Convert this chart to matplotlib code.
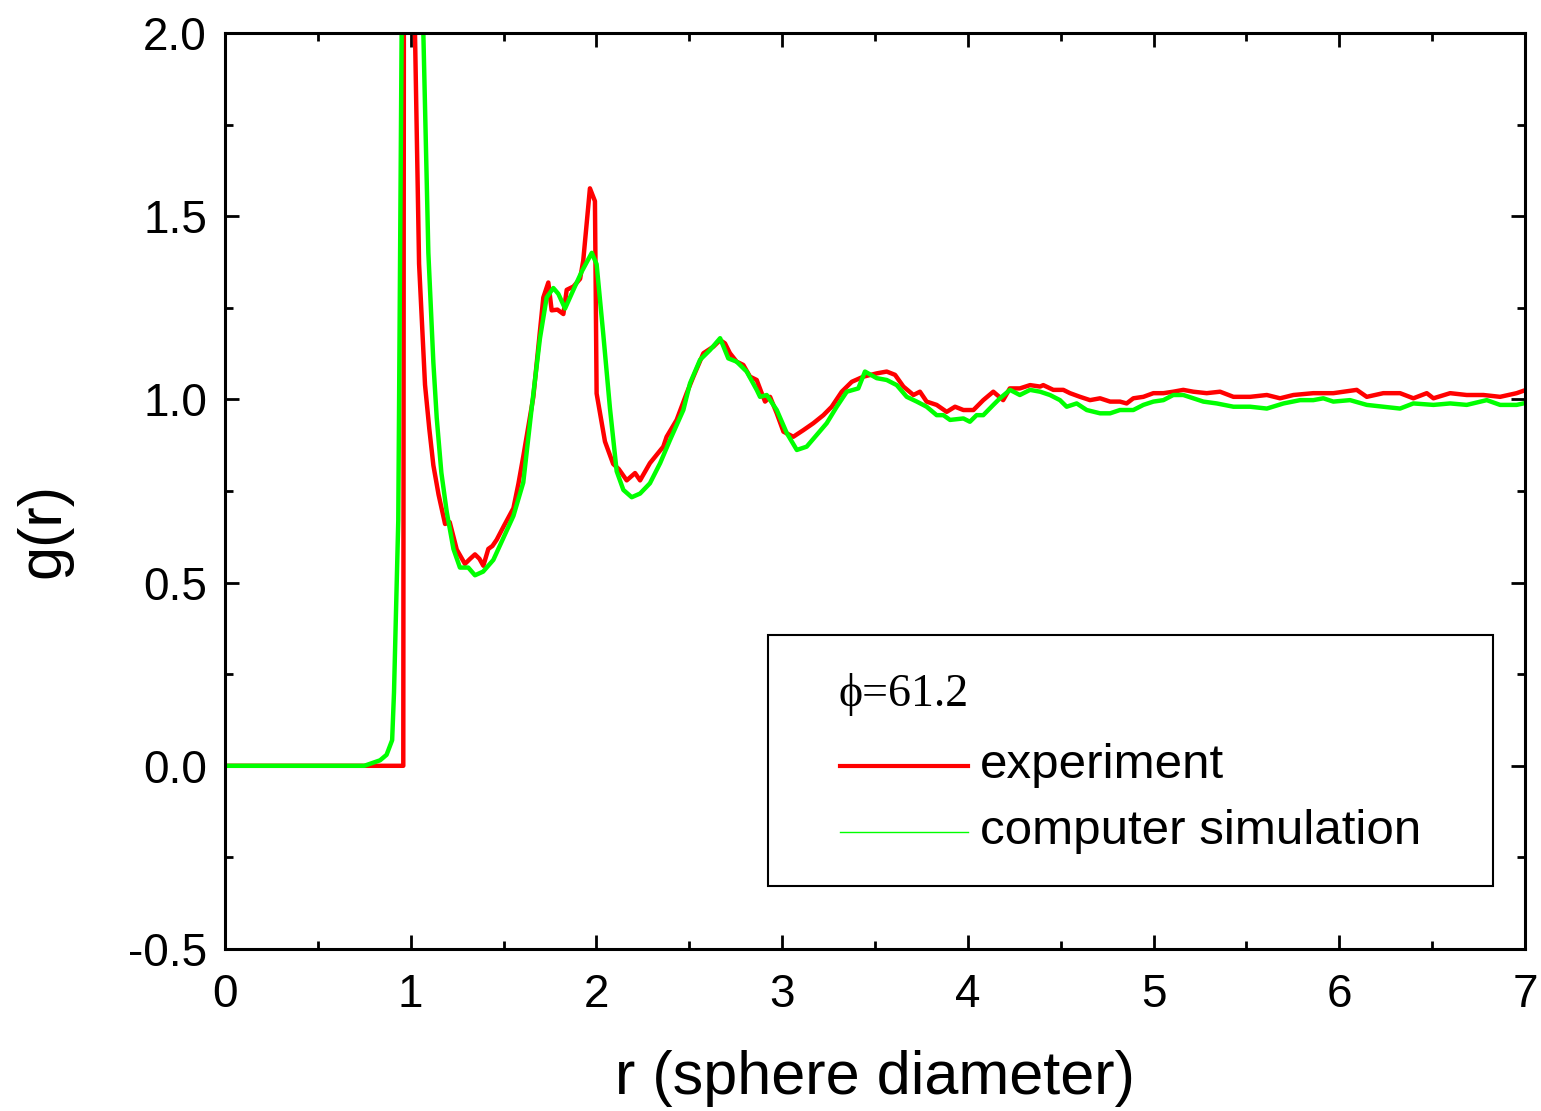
import matplotlib
matplotlib.use("Agg")
import matplotlib.pyplot as plt
from matplotlib.patches import Rectangle
from matplotlib.lines import Line2D
from matplotlib.ticker import MultipleLocator

# ---- data ----
r_exp = [0, 0.96, 0.965, 0.99, 1.023, 1.045, 1.077, 1.10, 1.122, 1.15, 1.185, 1.21,
         1.248, 1.292, 1.32, 1.346, 1.37, 1.391, 1.418, 1.44, 1.463, 1.499, 1.553,
         1.58, 1.606, 1.66, 1.714, 1.741, 1.759, 1.79, 1.822, 1.84, 1.876, 1.912,
         1.929, 1.965, 1.992, 2.001, 2.046, 2.09, 2.12, 2.163, 2.208, 2.235, 2.288,
         2.36, 2.378, 2.432, 2.486, 2.522, 2.576, 2.63, 2.666, 2.692, 2.719, 2.755,
         2.791, 2.827, 2.863, 2.89, 2.908, 2.935, 2.971, 3.007, 3.06, 3.114, 3.168,
         3.222, 3.267, 3.321, 3.375, 3.437, 3.509, 3.563, 3.608, 3.653, 3.707, 3.742,
         3.778, 3.832, 3.886, 3.931, 3.976, 4.03, 4.083, 4.137, 4.19, 4.226, 4.28,
         4.335, 4.389, 4.406, 4.46, 4.514, 4.55, 4.604, 4.658, 4.712, 4.766, 4.819,
         4.855, 4.891, 4.945, 4.999, 5.053, 5.106, 5.16, 5.214, 5.286, 5.358, 5.43,
         5.52, 5.61, 5.681, 5.753, 5.86, 5.968, 6.094, 6.148, 6.237, 6.327, 6.399,
         6.471, 6.507, 6.597, 6.686, 6.776, 6.866, 6.955, 7.0]
g_exp = [0, 0, 3.2, 3.0, 2.0, 1.37, 1.04, 0.92, 0.82, 0.74, 0.66, 0.665,
         0.59, 0.551, 0.565, 0.577, 0.565, 0.546, 0.592, 0.60, 0.617, 0.652, 0.703,
         0.77, 0.844, 1.006, 1.278, 1.319, 1.243, 1.245, 1.233, 1.299, 1.308, 1.329,
         1.379, 1.576, 1.541, 1.016, 0.885, 0.824, 0.81, 0.779, 0.799, 0.779, 0.826,
         0.871, 0.898, 0.944, 1.017, 1.062, 1.126, 1.144, 1.162, 1.153, 1.126, 1.103,
         1.094, 1.062, 1.053, 1.017, 0.994, 1.007, 0.962, 0.912, 0.898, 0.916, 0.935,
         0.957, 0.98, 1.021, 1.048, 1.062, 1.071, 1.076, 1.067, 1.035, 1.012, 1.021,
         0.994, 0.985, 0.966, 0.98, 0.971, 0.971, 0.998, 1.021, 0.998, 1.03, 1.03,
         1.039, 1.035, 1.039, 1.026, 1.026, 1.017, 1.007, 0.998, 1.003, 0.994, 0.994,
         0.989, 1.003, 1.007, 1.017, 1.017, 1.021, 1.026, 1.021, 1.017, 1.021, 1.007,
         1.007, 1.012, 1.003, 1.012, 1.017, 1.017, 1.026, 1.007, 1.017, 1.017, 1.003,
         1.017, 1.003, 1.017, 1.012, 1.012, 1.007, 1.017, 1.025]

r_sim = [0, 0.75, 0.835, 0.87, 0.9, 0.91, 0.933, 0.951, 0.97, 1.02, 1.068, 1.095,
         1.122, 1.14, 1.165, 1.194, 1.23, 1.265, 1.31, 1.346, 1.39, 1.445, 1.499,
         1.553, 1.606, 1.651, 1.696, 1.732, 1.768, 1.795, 1.831, 1.876, 1.921, 1.975,
         2.001, 2.037, 2.073, 2.109, 2.145, 2.19, 2.235, 2.288, 2.343, 2.396, 2.468,
         2.504, 2.558, 2.612, 2.666, 2.71, 2.755, 2.809, 2.863, 2.881, 2.917, 2.971,
         3.025, 3.079, 3.132, 3.186, 3.24, 3.294, 3.348, 3.41, 3.446, 3.509, 3.563,
         3.617, 3.671, 3.725, 3.778, 3.832, 3.868, 3.904, 3.976, 4.011, 4.047, 4.083,
         4.137, 4.173, 4.227, 4.28, 4.335, 4.389, 4.442, 4.496, 4.532, 4.586, 4.64,
         4.712, 4.766, 4.819, 4.891, 4.945, 4.999, 5.053, 5.106, 5.16, 5.214, 5.268,
         5.34, 5.43, 5.52, 5.61, 5.7, 5.789, 5.86, 5.914, 5.968, 6.058, 6.148, 6.237,
         6.327, 6.399, 6.507, 6.597, 6.686, 6.794, 6.866, 6.955, 7.0]
g_sim = [0, 0, 0.015, 0.03, 0.07, 0.2, 0.67, 2.0, 3.4, 3.3, 2.0, 1.40,
         1.10, 0.95, 0.80, 0.693, 0.592, 0.541, 0.541, 0.52, 0.53, 0.562, 0.622,
         0.682, 0.773, 0.975, 1.167, 1.278, 1.304, 1.288, 1.248, 1.299, 1.349, 1.40,
         1.369, 1.177, 0.975, 0.804, 0.753, 0.733, 0.743, 0.771, 0.826, 0.889, 0.971,
         1.044, 1.108, 1.135, 1.167, 1.112, 1.103, 1.076, 1.026, 1.007, 1.012, 0.971,
         0.908, 0.862, 0.871, 0.903, 0.935, 0.98, 1.021, 1.03, 1.076, 1.058, 1.053,
         1.039, 1.007, 0.994, 0.98, 0.957, 0.957, 0.944, 0.948, 0.939, 0.957, 0.957,
         0.985, 1.003, 1.026, 1.012, 1.026, 1.021, 1.012, 0.998, 0.98, 0.989, 0.971,
         0.962, 0.962, 0.971, 0.971, 0.985, 0.994, 0.998, 1.012, 1.012, 1.003, 0.994,
         0.989, 0.98, 0.98, 0.975, 0.989, 0.998, 0.998, 1.003, 0.994, 0.998, 0.985, 0.98,
         0.975, 0.989, 0.985, 0.989, 0.985, 0.998, 0.985, 0.985, 0.99]

x_ticks = [0, 1, 2, 3, 4, 5, 6, 7]
y_ticks = [-0.5, 0.0, 0.5, 1.0, 1.5, 2.0]
y_ticklabels = ["-0.5", "0.0", "0.5", "1.0", "1.5", "2.0"]
legend_title = "\u03d5=61.2"
label_exp = "experiment"
label_sim = "computer simulation"

# ---- figure ----
W, H = 1541, 1111
fig = plt.figure(figsize=(W / 100, H / 100), dpi=100)
ax = fig.add_axes([225 / W, 1 - 949 / H, 1300 / W, 916 / H])

ax.plot(r_exp, g_exp, color="#ff0000", lw=3.2, zorder=3, solid_joinstyle="round")
ax.plot(r_sim, g_sim, color="#00ff00", lw=3.2, zorder=4, solid_joinstyle="round")

ax.set_xlim(0, 7)
ax.set_ylim(-0.5, 2.0)
ax.set_xticks(x_ticks)
ax.set_yticks(y_ticks)
ax.set_yticklabels(y_ticklabels)
ax.xaxis.set_minor_locator(MultipleLocator(0.5))
ax.yaxis.set_minor_locator(MultipleLocator(0.25))

for s in ax.spines.values():
    s.set_linewidth(2.2)
    s.set_zorder(5)

font = "Liberation Sans"
ax.tick_params(which="both", direction="in", top=True, right=True, width=2.0)
ax.tick_params(which="major", length=10, labelsize=33, pad=13)
ax.tick_params(which="minor", length=6)
ax.tick_params(axis="x", which="major", pad=17)
for lab in ax.get_xticklabels() + ax.get_yticklabels():
    lab.set_fontfamily(font)

ax.set_xlabel("r (sphere diameter)", fontsize=44, fontfamily=font)
ax.xaxis.set_label_coords(0.5, (949 - 1094) / 916)
ax.xaxis.label.set_va("baseline")
ax.set_ylabel("g(r)", fontsize=44, fontfamily=font)
ax.yaxis.set_label_coords((72 - 225) / 1300, (949 - 530) / 916)

# ---- legend box (manual) ----
tf = fig.transFigure
def fx(px):
    return px / W
def fy(py):
    return 1 - py / H

fig.patches.append(Rectangle((fx(768), fy(886)), fx(1493) - fx(768), fy(635) - fy(886),
                             transform=tf, fill=True, facecolor="white",
                             edgecolor="black", lw=1.5, zorder=10))
fig.text(fx(838), fy(694), legend_title, fontsize=33, fontfamily="Liberation Serif",
         va="center", ha="left", zorder=11)
fig.lines.append(Line2D([fx(840), fx(968)], [fy(766), fy(766)], transform=tf,
                        color="#ff0000", lw=3.0, zorder=11))
fig.lines.append(Line2D([fx(840), fx(968)], [fy(832), fy(832)], transform=tf,
                        color="#00ff00", lw=1.0, zorder=11))
fig.text(fx(980), fy(766), label_exp, fontsize=35.5, fontfamily=font,
         va="center", ha="left", zorder=11)
fig.text(fx(980), fy(832), label_sim, fontsize=35.5, fontfamily=font,
         va="center", ha="left", zorder=11)

fig.savefig("out.png", dpi=100)
